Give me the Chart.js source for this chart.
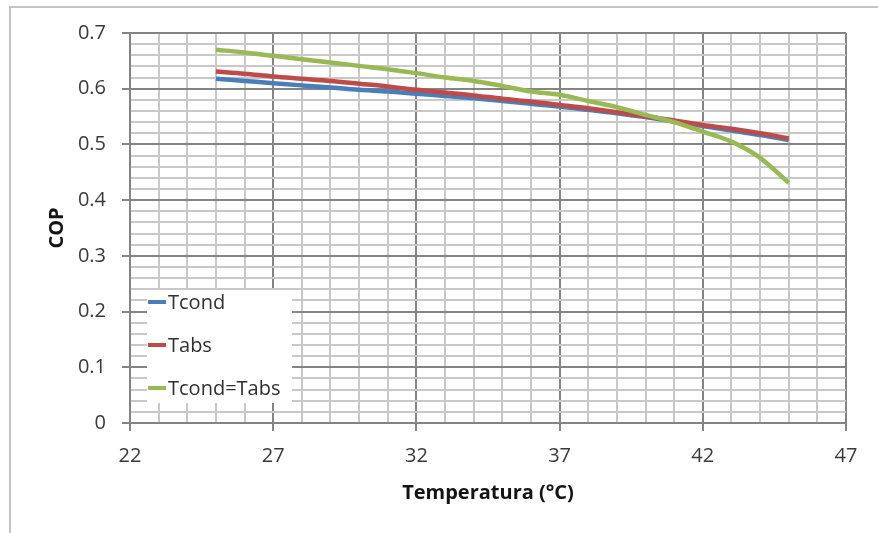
<!DOCTYPE html>
<html>
<head>
<meta charset="utf-8">
<script src="https://cdn.jsdelivr.net/npm/chart.js@4"></script>
<style>
  html, body { margin: 0; padding: 0; background: #fff; }
  #wrap { position: relative; width: 878px; height: 533px; }
  #frame { position: absolute; left: 9px; top: 6px; right: 0; bottom: 0; border-top: 2px solid #c4c4c4; border-left: 2px solid #c4c4c4; }
  canvas { position: absolute; left: 0; top: 0; }
</style>
</head>
<body>
<div id="wrap">
  <div id="frame"></div>
  <canvas id="grafico" width="878" height="533"></canvas>
</div>
<script>
// temperaturas (°C) e COP
const temperaturas = [25, 26, 27, 28, 29, 30, 31, 32, 33, 34, 35, 36, 37, 38, 39, 40, 41, 42, 43, 44, 45];
const copTcond = [0.618, 0.614, 0.610, 0.606, 0.602, 0.598, 0.595, 0.591, 0.587, 0.583, 0.578, 0.573, 0.568, 0.562, 0.556, 0.549, 0.541, 0.533, 0.525, 0.517, 0.508];
const copTabs = [0.631, 0.627, 0.622, 0.618, 0.614, 0.609, 0.604, 0.598, 0.593, 0.588, 0.582, 0.577, 0.571, 0.565, 0.558, 0.550, 0.543, 0.535, 0.528, 0.520, 0.511];
const copIguais = [0.670, 0.665, 0.659, 0.653, 0.647, 0.641, 0.635, 0.628, 0.620, 0.614, 0.605, 0.595, 0.589, 0.578, 0.567, 0.553, 0.540, 0.523, 0.505, 0.476, 0.431];
const nomes = ['Tcond', 'Tabs', 'Tcond=Tabs'];
const cores = ['#4a7ebb', '#be4b48', '#98b954'];
const xTicks = [22, 27, 32, 37, 42, 47];
const yTicks = [0, 0.1, 0.2, 0.3, 0.4, 0.5, 0.6, 0.7];

const corMaior = '#848484';
const corMenor = '#c8c8c8';
const familia = '"Open Sans", "Noto Sans", sans-serif';
const fonte = { family: familia, size: 20 };

const series = [copTcond, copTabs, copIguais];

function pontos(valores) {
  return valores.map((v, i) => ({ x: temperaturas[i], y: v }));
}

const ehMaiorX = v => xTicks.includes(Math.round(v));
const ehMaiorY = v => yTicks.some(t => Math.abs(t - v) < 1e-6);

// legenda desenhada dentro da área do gráfico
const legendaInterna = {
  id: 'legendaInterna',
  afterDatasetsDraw(chart) {
    const ctx = chart.ctx;
    const a = chart.chartArea;
    const x0 = a.left + 17, y0 = a.top + 257;
    const w = 145, h = 113;
    ctx.save();
    ctx.fillStyle = '#fff';
    ctx.fillRect(x0, y0, w, h);
    ctx.font = '20px ' + familia;
    ctx.textBaseline = 'middle';
    nomes.forEach((nome, i) => {
      const y = y0 + 12 + i * 43;
      ctx.strokeStyle = cores[i];
      ctx.lineWidth = 4;
      ctx.beginPath();
      ctx.moveTo(x0 + 1, y);
      ctx.lineTo(x0 + 19, y);
      ctx.stroke();
      ctx.fillStyle = '#303030';
      ctx.fillText(nome, x0 + 21, y + 1);
    });
    ctx.restore();
  }
};

new Chart(document.getElementById('grafico'), {
  type: 'line',
  data: {
    datasets: series.map((s, i) => ({
      label: nomes[i],
      data: pontos(s),
      borderColor: cores[i],
      backgroundColor: cores[i],
      borderWidth: 4.5,
      pointRadius: 0,
      fill: false,
      tension: 0.4,
      cubicInterpolationMode: 'monotone',
      order: 3 - i
    }))
  },
  options: {
    responsive: false,
    animation: false,
    layout: { padding: { top: 33, right: 32, left: 0, bottom: 0 } },
    plugins: {
      legend: { display: false },
      tooltip: { enabled: false }
    },
    scales: {
      x: {
        type: 'linear',
        min: 22,
        max: 47,
        afterFit(scale) { scale.height = 110; },
        ticks: {
          stepSize: 1,
          autoSkip: false,
          maxRotation: 0,
          padding: 13,
          color: '#3a3a3a',
          font: fonte,
          callback: v => ehMaiorX(v) ? String(v) : ''
        },
        grid: {
          lineWidth: 2,
          tickLength: 8,
          color: c => (c.tick && ehMaiorX(c.tick.value)) ? corMaior : corMenor,
          tickColor: c => (c.tick && ehMaiorX(c.tick.value)) ? corMaior : 'rgba(0,0,0,0)'
        },
        border: { color: corMaior, width: 2 },
        title: {
          display: true,
          text: 'Temperatura (°C)',
          color: '#141414',
          font: { family: familia, size: 20, weight: 'bold' },
          padding: { top: 0, bottom: 28 }
        }
      },
      y: {
        min: 0,
        max: 0.7,
        afterFit(scale) { scale.width = 130; },
        ticks: {
          stepSize: 0.02,
          autoSkip: false,
          padding: 16,
          color: '#3a3a3a',
          font: fonte,
          callback: v => ehMaiorY(v) ? (v === 0 ? '0' : v.toFixed(1)) : ''
        },
        grid: {
          lineWidth: 2,
          tickLength: 8,
          color: c => (c.tick && ehMaiorY(c.tick.value)) ? corMaior : corMenor,
          tickColor: c => (c.tick && ehMaiorY(c.tick.value)) ? corMaior : 'rgba(0,0,0,0)'
        },
        border: { color: corMaior, width: 2 },
        title: {
          display: true,
          text: 'COP',
          color: '#141414',
          font: { family: familia, size: 20, weight: 'bold' },
          padding: { top: 45, bottom: 0 }
        }
      }
    }
  },
  plugins: [legendaInterna]
});
</script>
</body>
</html>
